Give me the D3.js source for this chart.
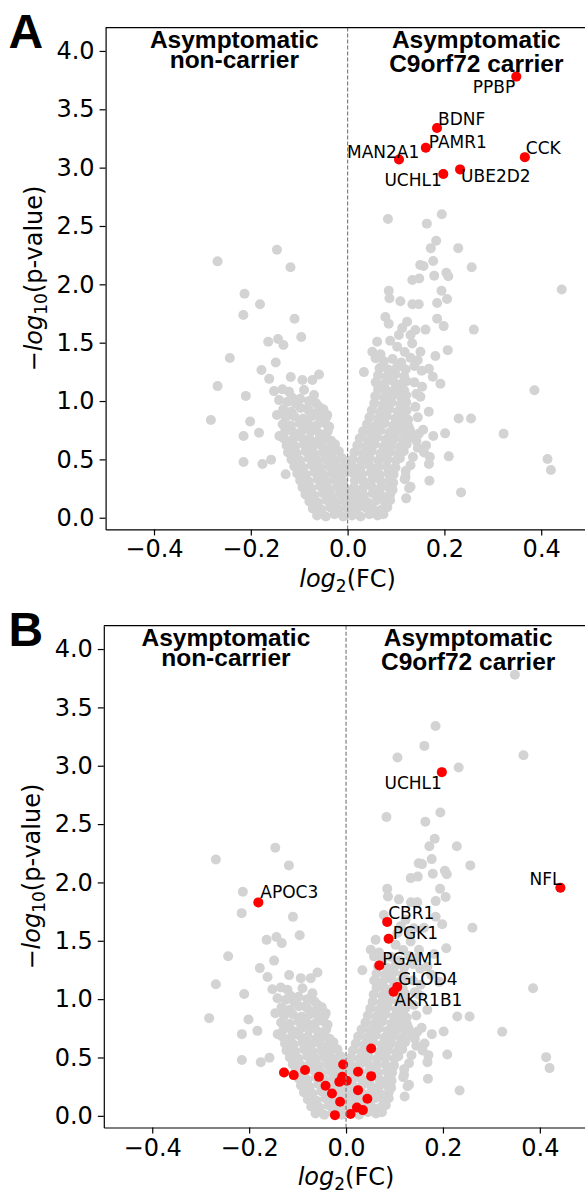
<!DOCTYPE html>
<html>
<head>
<meta charset="utf-8">
<script src="https://cdn.jsdelivr.net/npm/d3@7"></script>
<style>
  body { margin: 0; background: #fff; }
  svg { display: block; }
</style>
</head>
<body>
<div id="chart"></div>
<script>
// every protein: [log2(FC), -log10(p)] -- same set in both panels
const proteins = [
  // top / labelled region
  [0.3485, 3.78], [0.1847, 3.34], [0.1616, 3.17], [0.1062, 3.07], [0.3662, 3.09],
  [0.1977, 2.945], [0.2324, 2.985],
  [0.0834, 2.56], [0.1637, 2.52], [0.1946, 2.60], [0.183, 2.374], [0.172, 2.31],
  [0.2286, 2.31], [0.1768, 2.20], [0.1568, 2.157], [0.150, 2.165], [0.2564, 2.146],
  [0.179, 2.074], [0.204, 2.10], [0.208, 2.07], [0.1336, 2.037], [0.148, 2.05],
  [0.085, 1.945], [0.194, 1.945], [0.4424, 1.955], [0.2055, 1.875], [0.185, 1.84],
  [0.0865, 1.88], [0.109, 1.855], [0.134, 1.83], [0.147, 1.83], [0.078, 1.72],
  [0.0849, 1.662], [0.185, 1.706], [0.1985, 1.642], [0.2608, 1.612], [0.123, 1.68],
  [0.1128, 1.625], [0.106, 1.566], [0.140, 1.608], [0.161, 1.612], [0.130, 1.566],
  [0.061, 1.508], [0.0879, 1.517], [0.1024, 1.465], [0.1334, 1.494], [0.1505, 1.423],
  [0.2069, 1.436], [0.1814, 1.386], [0.051, 1.423], [0.0577, 1.366], [0.0337, 1.248],
  [0.0687, 1.289], [0.168, 1.277], [0.176, 1.208], [0.1918, 1.148], [0.154, 1.123],
  [0.1057, 1.105], [0.098, 1.063],
  [0.386, 1.093], [0.2295, 0.851], [0.255, 0.851], [0.3223, 0.72], [0.413, 0.503],
  [0.42, 0.409], [0.2344, 0.217], [0.209, 0.526], [0.2015, 0.723], [0.177, 0.70],
  [0.169, 0.317], [0.156, 0.754], [0.1677, 0.908], [0.1505, 1.037], [0.121, 0.166],
  [0.127, 0.253], [0.118, 0.33], [0.168, 0.46], [0.1196, 0.351], [0.130, 0.266],
  // left scatter
  [-0.2687, 2.197], [-0.146, 2.297], [-0.118, 2.146], [-0.213, 1.92], [-0.181, 1.829],
  [-0.2154, 1.737], [-0.1096, 1.705], [-0.0957, 1.548], [-0.164, 1.508], [-0.1437, 1.532],
  [-0.1326, 1.48], [-0.2433, 1.368], [-0.1485, 1.33], [-0.178, 1.266], [-0.162, 1.19],
  [-0.1175, 1.206], [-0.0934, 1.18], [-0.059, 1.228], [-0.0728, 1.18], [-0.2687, 1.128],
  [-0.2103, 1.044], [-0.2825, 0.837], [-0.2014, 0.825], [-0.183, 0.728], [-0.215, 0.70],
  [-0.215, 0.478], [-0.176, 0.46], [-0.158, 0.497], [-0.128, 0.372],
  // left lobe
  [-0.152, 1.085], [-0.1346, 1.10], [-0.121, 1.08], [-0.09, 1.094], [-0.0694, 1.051],
  [-0.1416, 1.008], [-0.1243, 0.994], [-0.107, 0.98], [-0.083, 0.937], [-0.059, 0.951],
  [-0.042, 0.88], [-0.098, 1.02], [-0.08, 1.0], [-0.065, 0.98], [-0.115, 1.03],
  [-0.146, 0.88], [-0.141, 0.70],
  [-0.133, 0.93], [-0.116, 0.91], [-0.097, 0.94], [-0.080, 0.92], [-0.063, 0.90], [-0.050, 0.93],
  [-0.128, 0.86], [-0.110, 0.87], [-0.092, 0.85], [-0.074, 0.87], [-0.057, 0.85], [-0.044, 0.86],
  [-0.134, 0.80], [-0.117, 0.79], [-0.099, 0.81], [-0.081, 0.80], [-0.064, 0.79], [-0.047, 0.81], [-0.038, 0.78],
  [-0.129, 0.74], [-0.111, 0.73], [-0.093, 0.75], [-0.076, 0.74], [-0.058, 0.72], [-0.041, 0.74],
  [-0.132, 0.68], [-0.114, 0.67], [-0.097, 0.69], [-0.079, 0.68], [-0.061, 0.66], [-0.044, 0.68], [-0.034, 0.66],
  [-0.126, 0.62], [-0.108, 0.61], [-0.090, 0.63], [-0.072, 0.61], [-0.054, 0.62], [-0.037, 0.60], [-0.026, 0.63],
  [-0.123, 0.56], [-0.105, 0.55], [-0.087, 0.57], [-0.069, 0.55], [-0.051, 0.56], [-0.033, 0.55], [-0.018, 0.57],
  [-0.116, 0.50], [-0.098, 0.49], [-0.080, 0.51], [-0.062, 0.49], [-0.044, 0.50], [-0.026, 0.49], [-0.011, 0.51],
  [-0.110, 0.44], [-0.092, 0.43], [-0.074, 0.45], [-0.056, 0.43], [-0.038, 0.44], [-0.020, 0.43], [-0.006, 0.45],
  [-0.104, 0.38], [-0.086, 0.37], [-0.068, 0.39], [-0.050, 0.37], [-0.032, 0.38], [-0.014, 0.37], [-0.002, 0.39],
  [-0.098, 0.32], [-0.080, 0.31], [-0.062, 0.33], [-0.044, 0.31], [-0.026, 0.32], [-0.009, 0.31],
  [-0.093, 0.26], [-0.075, 0.25], [-0.057, 0.27], [-0.039, 0.25], [-0.021, 0.26], [-0.005, 0.25],
  [-0.087, 0.20], [-0.069, 0.19], [-0.051, 0.21], [-0.033, 0.19], [-0.015, 0.20], [0.002, 0.19],
  [-0.079, 0.14], [-0.061, 0.13], [-0.043, 0.15], [-0.025, 0.13], [-0.007, 0.14], [0.010, 0.13],
  [-0.072, 0.08], [-0.054, 0.07], [-0.036, 0.09], [-0.018, 0.07], [0.000, 0.08], [0.018, 0.07], [0.036, 0.09],
  [-0.063, 0.02], [-0.045, 0.01], [-0.027, 0.03], [-0.009, 0.01], [0.009, 0.02], [0.027, 0.01], [0.045, 0.03], [0.062, 0.02],
  // right lobe
  [0.066, 1.28], [0.084, 1.27], [0.102, 1.29], [0.12, 1.27], [0.138, 1.30], [0.153, 1.26],
  [0.075, 1.34], [0.093, 1.36], [0.111, 1.33], [0.13, 1.37], [0.068, 1.40], [0.118, 1.42], [0.145, 1.35],
  [0.063, 1.22], [0.081, 1.21], [0.099, 1.23], [0.117, 1.21],
  [0.058, 1.16], [0.076, 1.15], [0.094, 1.17], [0.112, 1.15], [0.122, 1.17], [0.138, 1.16],
  [0.063, 1.10], [0.081, 1.09], [0.099, 1.11], [0.117, 1.09],
  [0.057, 1.04], [0.075, 1.03], [0.093, 1.05], [0.111, 1.03], [0.121, 1.05], [0.142, 1.06],
  [0.055, 0.98], [0.073, 0.97], [0.091, 0.99], [0.109, 0.97], [0.121, 0.99], [0.14, 0.95],
  [0.050, 0.92], [0.068, 0.91], [0.086, 0.93], [0.104, 0.91], [0.122, 0.92],
  [0.045, 0.86], [0.063, 0.85], [0.081, 0.87], [0.099, 0.85], [0.117, 0.86], [0.125, 0.84], [0.145, 0.86],
  [0.040, 0.80], [0.058, 0.79], [0.076, 0.81], [0.094, 0.79], [0.112, 0.80], [0.126, 0.78],
  [0.032, 0.74], [0.050, 0.73], [0.068, 0.75], [0.086, 0.73], [0.104, 0.74], [0.122, 0.73], [0.129, 0.75], [0.147, 0.72],
  [0.025, 0.68], [0.043, 0.67], [0.061, 0.69], [0.079, 0.67], [0.097, 0.68], [0.115, 0.67], [0.130, 0.69], [0.142, 0.66],
  [0.020, 0.62], [0.038, 0.61], [0.056, 0.63], [0.074, 0.61], [0.092, 0.62], [0.110, 0.61], [0.122, 0.63],
  [0.145, 0.60], [0.162, 0.62], [0.158, 0.56], [0.17, 0.52], [0.135, 0.52],
  [0.014, 0.56], [0.032, 0.55], [0.050, 0.57], [0.068, 0.55], [0.086, 0.56], [0.104, 0.55], [0.116, 0.57],
  [0.010, 0.50], [0.028, 0.49], [0.046, 0.51], [0.064, 0.49], [0.082, 0.50], [0.100, 0.49], [0.108, 0.51],
  [0.010, 0.44], [0.027, 0.43], [0.045, 0.45], [0.063, 0.43], [0.081, 0.44], [0.099, 0.43], [0.13, 0.45],
  [0.012, 0.38], [0.030, 0.37], [0.048, 0.39], [0.066, 0.37], [0.084, 0.38], [0.095, 0.37], [0.12, 0.40],
  [0.015, 0.32], [0.033, 0.31], [0.051, 0.33], [0.069, 0.31], [0.087, 0.32], [0.094, 0.30],
  [0.013, 0.26], [0.031, 0.25], [0.049, 0.27], [0.067, 0.25], [0.085, 0.26], [0.093, 0.24],
  [0.016, 0.20], [0.034, 0.19], [0.052, 0.21], [0.070, 0.19], [0.088, 0.20],
  [0.024, 0.14], [0.042, 0.13], [0.060, 0.15], [0.078, 0.13], [0.088, 0.15],
  [0.052, 0.08], [0.070, 0.07], [0.082, 0.09], [0.074, 0.03]
];

// panel A highlights
const namesA = ["PPBP", "BDNF", "PAMR1", "MAN2A1", "CCK", "UCHL1", "UBE2D2"];
const fcA = [0.3485, 0.1847, 0.1616, 0.1062, 0.3662, 0.1977, 0.2324];
const pA = [3.78, 3.34, 3.17, 3.07, 3.09, 2.945, 2.985];

// panel B highlights
const namesB = ["UCHL1", "NFL", "APOC3", "CBR1", "PGK1", "PGAM1", "GLOD4", "AKR1B1"];
const fcB = [0.1977, 0.4424, -0.181, 0.0849, 0.0879, 0.0687, 0.1057, 0.098];
const pB = [2.945, 1.955, 1.829, 1.662, 1.517, 1.289, 1.105, 1.063];
// unlabelled highlights in B
const extraB = [
  [0.0518, 0.577], [-0.006, 0.44], [-0.128, 0.372], [-0.108, 0.349], [-0.0847, 0.392],
  [-0.056, 0.334], [-0.0423, 0.257], [-0.029, 0.192], [-0.0123, 0.12], [-0.023, 0.006],
  [-0.0077, 0.334], [-0.0139, 0.291], [0.0016, 0.30], [0.0247, 0.377], [0.0518, 0.34],
  [0.0247, 0.22], [0.044, 0.146], [0.0224, 0.072], [0.0347, 0.049], [0.0093, 0.015]
];

const xTicks = [-0.4, -0.2, 0, 0.2, 0.4];
const yTicks = [0, 0.5, 1, 1.5, 2, 2.5, 3, 3.5, 4];
const groupTitles = [["Asymptomatic", "non-carrier"], ["Asymptomatic", "C9orf72 carrier"]];

// label placement: [dx, dy, anchor] in px from the point
const labelPos = {
  A: {
    PPBP: [-1, 16, "end"], BDNF: [1, -3, "start"], PAMR1: [3, 0, "start"],
    MAN2A1: [-52, -1.5, "start"], CCK: [1, -3, "start"], UCHL1: [-1.5, 12, "end"],
    UBE2D2: [1, 12.5, "start"]
  },
  B: {
    UCHL1: [0, 17, "end"], NFL: [1, -3, "end"], APOC3: [2, -4, "start"],
    CBR1: [1, -3, "start"], PGK1: [4, 0, "start"], PGAM1: [3, 0, "start"],
    GLOD4: [1, -2, "start"], AKR1B1: [1, 14, "start"]
  }
};

const W = 585, H = 1192;
const svg = d3.select("#chart").append("svg").attr("width", W).attr("height", H);

const panels = [
  { key: "A", left: 105.6, top: 27.6, width: 484, height: 501.8, titleX: [-0.234, 0.266],
    names: namesA, fc: fcA, p: pA, extra: [] },
  { key: "B", left: 103.8, top: 625.7, width: 484.5, height: 501.8, titleX: [-0.248, 0.252],
    names: namesB, fc: fcB, p: pB, extra: extraB }
];

const tickFont = "DejaVu Sans, sans-serif";
const boldFont = "Liberation Sans, Arial, sans-serif";

panels.forEach(drawPanel);

function drawPanel(cfg) {
  const x = d3.scaleLinear().domain([-0.5, 0.5]).range([cfg.left, cfg.left + cfg.width]);
  const y = d3.scaleLinear().domain([-0.1, 4.2]).range([cfg.top + cfg.height, cfg.top]);
  const g = svg.append("g").attr("class", "panel-" + cfg.key);

  g.append("g")
    .selectAll("circle")
    .data(proteins)
    .join("circle")
    .attr("cx", (d) => x(d[0]))
    .attr("cy", (d) => y(d[1]))
    .attr("r", 5)
    .attr("fill", "#d3d3d3");

  const hits = cfg.names.map((n, i) => ({ name: n, fc: cfg.fc[i], p: cfg.p[i] }));

  g.append("g")
    .selectAll("circle")
    .data([...cfg.extra.map((d) => ({ fc: d[0], p: d[1] })), ...hits])
    .join("circle")
    .attr("cx", (d) => x(d.fc))
    .attr("cy", (d) => y(d.p))
    .attr("r", 5)
    .attr("fill", "#ff0000");

  g.append("g")
    .selectAll("text")
    .data(hits)
    .join("text")
    .attr("x", (d) => x(d.fc) + labelPos[cfg.key][d.name][0])
    .attr("y", (d) => y(d.p) + labelPos[cfg.key][d.name][1])
    .attr("text-anchor", (d) => labelPos[cfg.key][d.name][2])
    .attr("font-family", tickFont)
    .attr("font-size", 17)
    .text((d) => d.name);

  // zero line
  g.append("line")
    .attr("x1", x(0)).attr("x2", x(0))
    .attr("y1", cfg.top).attr("y2", cfg.top + cfg.height)
    .attr("stroke", "#808080")
    .attr("stroke-width", 1.2)
    .attr("stroke-dasharray", "4,2");

  // group titles
  groupTitles.forEach((lines, i) => {
    const t = g.append("text")
      .attr("text-anchor", "middle")
      .attr("font-family", boldFont)
      .attr("font-weight", "bold")
      .attr("font-size", 24.5);
    t.append("tspan").attr("x", x(cfg.titleX[i])).attr("y", cfg.top + 20.5).text(lines[0]);
    t.append("tspan").attr("x", x(cfg.titleX[i])).attr("y", cfg.top + (i === 0 ? 40 : 44)).text(lines[1]);
  });

  // axes
  const bottom = cfg.top + cfg.height;
  g.append("g")
    .attr("transform", `translate(0,${bottom})`)
    .call(d3.axisBottom(x).tickValues(xTicks).tickFormat(d3.format(".1f"))
      .tickSize(6).tickPadding(5).tickSizeOuter(0))
    .attr("font-size", 24)
    .attr("font-family", tickFont)
    .call((a) => a.selectAll("line,path").attr("stroke-width", 1.2));

  g.append("g")
    .attr("transform", `translate(${cfg.left},0)`)
    .call(d3.axisLeft(y).tickValues(yTicks).tickFormat(d3.format(".1f"))
      .tickSize(6).tickPadding(5).tickSizeOuter(0))
    .attr("font-size", 24)
    .attr("font-family", tickFont)
    .call((a) => a.selectAll("line,path").attr("stroke-width", 1.2));

  g.append("line")
    .attr("x1", cfg.left).attr("x2", cfg.left + cfg.width)
    .attr("y1", cfg.top).attr("y2", cfg.top)
    .attr("stroke", "#000")
    .attr("stroke-width", 1.2);

  // axis labels
  const xl = g.append("text")
    .attr("x", x(0))
    .attr("y", bottom + 57.5)
    .attr("text-anchor", "middle")
    .attr("font-family", tickFont)
    .attr("font-size", 24);
  xl.append("tspan").attr("font-style", "italic").text("log");
  xl.append("tspan").attr("font-size", 17).attr("dy", 5).text("2");
  xl.append("tspan").attr("dy", -5).text("(FC)");

  const yl = g.append("text")
    .attr("transform", `translate(${cfg.left - 63.6},${cfg.top + cfg.height / 2}) rotate(-90)`)
    .attr("text-anchor", "middle")
    .attr("font-family", tickFont)
    .attr("font-size", 24);
  yl.append("tspan").text("\u2212");
  yl.append("tspan").attr("font-style", "italic").text("log");
  yl.append("tspan").attr("font-size", 17).attr("dy", 5).text("10");
  yl.append("tspan").attr("dy", -5).text("(p-value)");

  // panel letter
  g.append("text")
    .attr("x", 8.5)
    .attr("y", cfg.top + 20.7)
    .attr("font-family", boldFont)
    .attr("font-weight", "bold")
    .attr("font-size", 48)
    .text(cfg.key);
}
</script>
</body>
</html>
